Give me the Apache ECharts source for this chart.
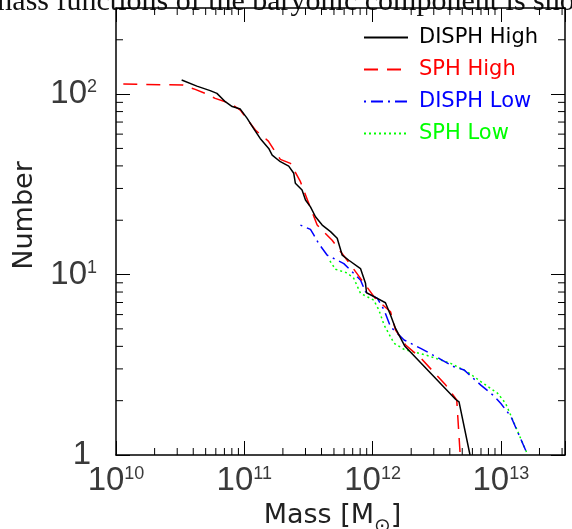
<!DOCTYPE html>
<html><head><meta charset="utf-8">
<script src="https://cdn.jsdelivr.net/npm/echarts@6/dist/echarts.min.js"></script>
<style>html,body{margin:0;padding:0;background:#fff}#c{width:572px;height:529px}</style>
</head><body><div id="c"></div>
<script>
// ---- data (mass in solar masses, cumulative number) ----
const seriesNames = ['DISPH High', 'SPH High', 'DISPH Low', 'SPH Low'];
const seriesColors = ['#000000', '#ff0000', '#0000ff', '#00ff00'];

const disphHighMass = [3.25e10,4.27e10,5.42e10,6.12e10,7.11e10,8.05e10,9.31e10,1.05e11,1.18e11,1.33e11,1.55e11,1.65e11,1.91e11,2.22e11,2.43e11,2.50e11,2.82e11,3.00e11,3.28e11,3.59e11,4.05e11,4.70e11,5.30e11,5.80e11,6.53e11,8.05e11,8.81e11,8.97e11,1.09e12,1.26e12,1.38e12,1.51e12,1.78e12,4.45e12,4.72e12,5.75e12];
const disphHighNum  = [119.6,110.7,104.5,100.9,90.8,85.3,82.6,73.6,64.6,56.8,50.0,45.9,42.2,39.9,36.4,32.1,29.4,25.9,23.7,20.9,18.8,17.3,15.9,12.8,12.0,10.8,8.94,7.93,7.38,6.98,5.97,5.03,4.02,2.03,1.97,1.0];

const sphHighMass = [1.14e10,3.31e10,4.14e10,4.95e10,5.93e10,7.78e10,9.31e10,1.22e11,1.54e11,1.71e11,1.91e11,2.29e11,2.74e11,3.18e11,3.70e11,4.84e11,6.34e11,8.05e11,1.05e12,1.38e12,1.51e12,1.81e12,2.37e12,3.72e12,4.53e12,4.82e12];
const sphHighNum  = [113.6,112.2,106.2,100.9,94.7,88.8,81.5,63.2,54.9,48.9,43.5,41.3,32.7,24.8,18.8,15.5,12.0,9.52,7.38,6.22,4.93,4.07,3.45,2.44,2.02,1.0];

const disphLowMass = [2.74e11,3.28e11,3.48e11,3.79e11,4.43e11,5.97e11,8.05e11,8.81e11,1.09e12,1.23e12,1.38e12,1.76e12,2.37e12,3.40e12,4.32e12,5.17e12,6.98e12,8.87e12,1.0e13,1.20e13,1.62e13];
const disphLowNum  = [18.8,17.8,16.6,14.9,12.8,11.5,9.33,8.03,7.38,6.36,5.14,4.34,3.90,3.39,3.08,2.96,2.44,2.12,1.93,1.63,1.0];

const sphLowMass = [4.65e11,5.14e11,6.34e11,7.14e11,8.05e11,1.02e12,1.12e12,1.23e12,1.47e12,1.76e12,2.67e12,4.06e12,5.49e12,6.98e12,9.42e12,1.09e13,1.27e13,1.62e13];
const sphLowNum  = [11.9,10.7,10.2,9.52,7.87,7.22,6.36,5.25,4.16,3.85,3.56,3.22,2.89,2.55,2.20,1.93,1.50,1.0];

// axis ranges and tick decades
const xMin = 1e10, xMax = Math.pow(10, 13.5);
const yMin = 1, yMax = 300;
const xDecades = [10, 11, 12, 13];
const yDecades = [0, 1, 2];

const paperText = 'mass functions of the baryonic component is sho';
const xAxisTitle = '{m|Mass [M}{sub|\u2299}{m|]}';
const yAxisTitle = 'Number';

// ---- helpers ----
const zip = (a, b) => a.map((v, i) => [v, b[i]]);
function minorValues(decades, lo, hi) {
  const out = [];
  decades.forEach(d => {
    for (let k = 2; k <= 9; k++) {
      const v = k * Math.pow(10, d);
      if (v > lo && v < hi) out.push(v);
    }
  });
  return out;
}
const xMinor = minorValues(xDecades, xMin, xMax);
const yMinor = minorValues(yDecades, yMin, yMax);

const FONT = 'DejaVu Sans';
const LFONT = 'Liberation Sans';
const LCOL = '#3a3a3a';
const labelRich = {
  b: { fontSize: 33, lineHeight: 32, color: LCOL, fontFamily: LFONT },
  s: { fontSize: 18, lineHeight: 13, verticalAlign: 'top', color: LCOL, fontFamily: LFONT },
  one: { fontSize: 33, lineHeight: 32, color: LCOL, fontFamily: LFONT, padding: [0, 6, 0, 0] }
};
function isDecade(v) {
  const l = Math.log10(v);
  return Math.abs(l - Math.round(l)) < 1e-6;
}
function xFmt(v) {
  if (!isDecade(v)) return '';
  return '{b|10}{s|' + Math.round(Math.log10(v)) + '}';
}
function yFmt(v) {
  if (!isDecade(v)) return '';
  const e = Math.round(Math.log10(v));
  if (e === 0) return '{one|1}';
  return '{b|10}{s|' + e + '}';
}

const chart = echarts.init(document.getElementById('c'), null, { renderer: 'canvas' });
const lineW = 1.5;
const axisLine = { show: true, lineStyle: { color: '#000', width: 1.5 } };
const majorTick = { show: true, inside: true, length: 14, lineStyle: { color: '#000', width: 1 } };

const lineSeries = [
  { name: seriesNames[0], data: zip(disphHighMass, disphHighNum), type: 'solid' },
  { name: seriesNames[1], data: zip(sphHighMass, sphHighNum), type: [14, 9] },
  { name: seriesNames[2], data: zip(disphLowMass, disphLowNum), type: [2, 5, 12, 5] },
  { name: seriesNames[3], data: zip(sphLowMass, sphLowNum), type: [2, 3] }
].map((s, i) => ({
  name: s.name, type: 'line', data: s.data, symbol: 'none', smooth: false, silent: true,
  lineStyle: { color: seriesColors[i], width: lineW, type: s.type },
  itemStyle: { color: seriesColors[i] },
  z: 10 - i
}));

chart.setOption({
  animation: false,
  backgroundColor: '#fff',
  grid: { left: 116, right: 7, top: 8, bottom: 74, containLabel: false, outerBoundsMode: 'none' },
  graphic: [{
    type: 'text', left: -11, top: -13, silent: true,
    style: { text: paperText, font: '30px "Liberation Serif"', fill: '#111' }
  }],
  legend: {
    orient: 'vertical', left: 363, top: 27, padding: 0, itemWidth: 44, itemHeight: 14, itemGap: 11,
    selectedMode: false,
    itemStyle: { opacity: 0, borderWidth: 0 },
    textStyle: { fontSize: 21, fontFamily: FONT, padding: [0, 0, 0, 6] },
    data: seriesNames.map((n, i) => ({ name: n, textStyle: { color: seriesColors[i] } }))
  },
  xAxis: [{
    type: 'log', logBase: 10, min: xMin, max: xMax, position: 'bottom',
    name: xAxisTitle, nameLocation: 'middle', nameGap: 30,
    nameTextStyle: { padding: [0, 16, 0, 0],
      rich: {
        m: { fontSize: 27, lineHeight: 27, fontFamily: FONT, color: '#222', verticalAlign: 'top' },
        sub: { fontSize: 20, lineHeight: 34, fontFamily: FONT, color: '#222', verticalAlign: 'bottom' }
      } },
    axisLine, axisTick: majorTick, splitLine: { show: false },
    axisLabel: { formatter: xFmt, margin: 10, rich: labelRich, showMinLabel: true, showMaxLabel: true, hideOverlap: false }
  }, {
    type: 'log', logBase: 10, min: xMin, max: xMax, position: 'top',
    axisLine, axisTick: majorTick, splitLine: { show: false }, axisLabel: { show: false }
  }],
  yAxis: [{
    type: 'log', logBase: 10, min: yMin, max: yMax, position: 'left',
    name: yAxisTitle, nameLocation: 'middle', nameGap: 78, nameRotate: 90,
    nameTextStyle: { fontSize: 27, fontFamily: FONT, color: '#222', padding: [0, 0, 0, 32] },
    axisLine, axisTick: majorTick, splitLine: { show: false },
    axisLabel: { formatter: yFmt, margin: 19, rich: labelRich, hideOverlap: false }
  }, {
    type: 'log', logBase: 10, min: yMin, max: yMax, position: 'right',
    axisLine, axisTick: majorTick, splitLine: { show: false }, axisLabel: { show: false }
  }],
  series: lineSeries.concat([
    {
      type: 'custom', silent: true, clip: false, z: 20,
      data: xMinor.map(v => [v, 10]),
      renderItem: (params, api) => {
        const cs = params.coordSys;
        const x = api.coord([api.value(0), api.value(1)])[0];
        const st = { stroke: '#000', lineWidth: 1 };
        return { type: 'group', children: [
          { type: 'line', shape: { x1: x, y1: cs.y + cs.height, x2: x, y2: cs.y + cs.height - 7 }, style: st },
          { type: 'line', shape: { x1: x, y1: cs.y, x2: x, y2: cs.y + 7 }, style: st }
        ] };
      }
    },
    {
      type: 'custom', silent: true, clip: false, z: 20,
      data: yMinor.map(v => [1e11, v]),
      renderItem: (params, api) => {
        const cs = params.coordSys;
        const y = api.coord([api.value(0), api.value(1)])[1];
        const st = { stroke: '#000', lineWidth: 1 };
        return { type: 'group', children: [
          { type: 'line', shape: { x1: cs.x, y1: y, x2: cs.x + 7, y2: y }, style: st },
          { type: 'line', shape: { x1: cs.x + cs.width, y1: y, x2: cs.x + cs.width - 7, y2: y }, style: st }
        ] };
      }
    }
  ])
});
</script>
</body></html>
